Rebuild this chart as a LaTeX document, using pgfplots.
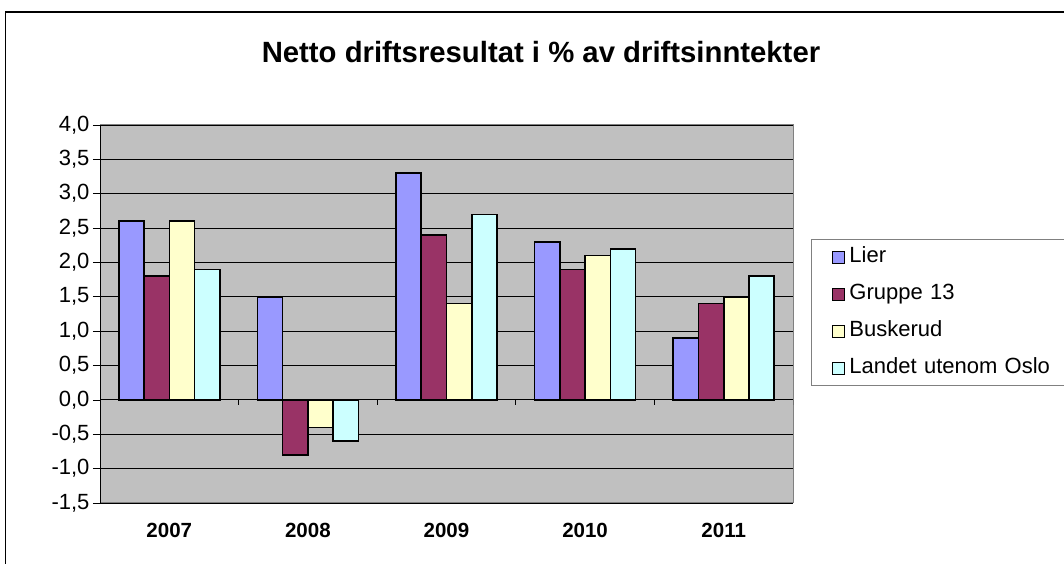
\documentclass[border=0pt]{standalone}
\usepackage{pgfplots}
\pgfplotsset{compat=1.18}
\usepackage{fontspec}
\setmainfont{Liberation Sans}
\definecolor{cLier}{HTML}{9999FF}
\definecolor{cGruppe}{HTML}{993366}
\definecolor{cBusk}{HTML}{FFFFCC}
\definecolor{cLandet}{HTML}{CCFFFF}
\definecolor{plotgray}{HTML}{C0C0C0}
\definecolor{bordergray}{HTML}{808080}
\begin{document}
\begin{tikzpicture}
\path[use as bounding box] (0,0) rectangle (1064pt,564pt);
\draw[line width=1.2pt] (5.5pt,0pt) -- (5.5pt,552pt) -- (1064pt,552pt);
\node[font=\fontsize{29.3}{33}\selectfont\bfseries] at (541pt,512pt) {Netto driftsresultat i \% av driftsinntekter};
\begin{axis}[
  at={(100pt,61pt)}, anchor=south west,
  scale only axis, width=693pt, height=378pt,
  xmin=-0.5, xmax=4.5, ymin=-1.5, ymax=4,
  ybar=0pt, bar width=0.182,
  xtick={0,1,2,3,4},
  xticklabels={2007,2008,2009,2010,2011},
  xticklabel style={font=\fontsize{20.5}{24}\selectfont\bfseries, yshift=-10pt},
  x tick style={draw=none},
  ytick={-1.5,-1,...,4},
  ytick pos=left,
  ytick style={draw=black, line width=0.8pt},
  tick align=outside, major tick length=7pt,
  yticklabel style={font=\fontsize{22}{26}\selectfont},
  /pgf/number format/.cd, use comma, fixed, fixed zerofill, precision=1, assume math mode=true,
  /pgfplots/.cd,
  ymajorgrids, grid style={black, line width=0.9pt},
  axis background/.style={fill=plotgray},
  axis line style={draw=bordergray, line width=1pt},
  legend style={at={(1.026,0.698)}, anchor=north west, draw=bordergray, line width=0.8pt,
    font=\fontsize{22}{26}\selectfont, row sep=12pt, inner sep=5pt,
    nodes={text height=16pt, text depth=5pt, inner sep=2pt, text width=212pt}},
  legend cell align=left,
  legend image code/.code={\path[draw=none, fill=none] (0pt,0pt) -- (31pt,0pt); \draw[#1, line width=0.6pt] (16pt,-6pt) rectangle (28pt,6pt);},
]
\addplot[fill=cLier, draw=black, line width=1.6pt] coordinates {(0,2.6) (1,1.5) (2,3.3) (3,2.3) (4,0.9)};
\addplot[fill=cGruppe, draw=black, line width=1.6pt] coordinates {(0,1.8) (1,-0.8) (2,2.4) (3,1.9) (4,1.4)};
\addplot[fill=cBusk, draw=black, line width=1.6pt] coordinates {(0,2.6) (1,-0.4) (2,1.4) (3,2.1) (4,1.5)};
\addplot[fill=cLandet, draw=black, line width=1.6pt] coordinates {(0,1.9) (1,-0.6) (2,2.7) (3,2.2) (4,1.8)};
\legend{Lier, Gruppe 13, Buskerud, Landet utenom Oslo}
\draw[black, line width=1pt] (axis cs:-0.5,-1.5) -- (axis cs:-0.5,4);
\draw[black, line width=1pt] (axis cs:-0.5,0) -- (axis cs:4.5,0);
\draw[black, line width=0.8pt] (axis cs:0.5,0) -- ++(0pt,-5pt);
\draw[black, line width=0.8pt] (axis cs:1.5,0) -- ++(0pt,-5pt);
\draw[black, line width=0.8pt] (axis cs:2.5,0) -- ++(0pt,-5pt);
\draw[black, line width=0.8pt] (axis cs:3.5,0) -- ++(0pt,-5pt);
\draw[black, line width=0.8pt] (axis cs:4.5,0) -- ++(0pt,-5pt);
\end{axis}
\end{tikzpicture}
\end{document}
